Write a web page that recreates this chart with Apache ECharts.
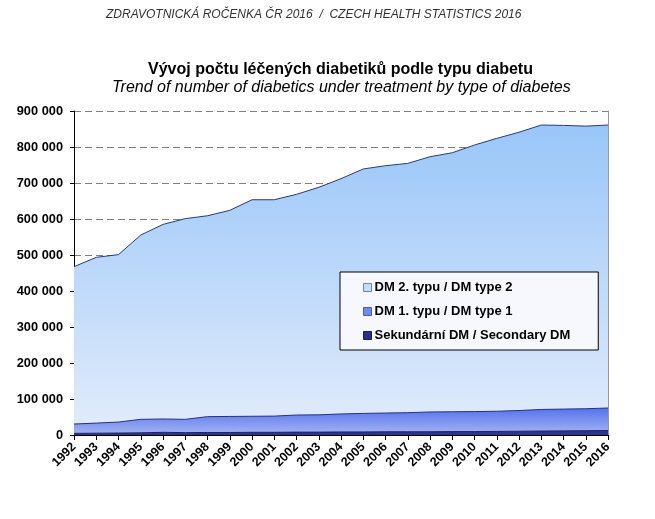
<!DOCTYPE html>
<html>
<head>
<meta charset="utf-8">
<script src="https://cdn.jsdelivr.net/npm/echarts@6/dist/echarts.min.js"></script>
<style>
html,body{margin:0;padding:0;background:#fff;}
#chart{width:655px;height:519px;}
</style>
</head>
<body>
<div id="chart"></div>
<script>
const years = ['1992','1993','1994','1995','1996','1997','1998','1999','2000','2001','2002','2003','2004','2005','2006','2007','2008','2009','2010','2011','2012','2013','2014','2015','2016'];
const secondaryDM = [4500,5000,5500,6000,7500,6500,7000,7000,7500,7500,8000,8000,8500,8500,9000,9000,9000,9500,9500,10000,10500,11000,11500,12000,12500];
const type1DM = [26000,28000,30500,37500,37000,37000,44000,44500,44500,45000,47500,48000,50000,51500,52000,53000,55000,55000,55500,56000,57500,60000,60500,61000,62500];
const type2DM = [437000,460500,465000,512000,540500,557500,558000,572500,601500,601000,613000,632000,653500,679000,687000,692500,709000,719500,740500,758000,773000,790000,788000,785000,786000];
const yTicks = [0,100000,200000,300000,400000,500000,600000,700000,800000,900000];

const headerText = 'ZDRAVOTNICKÁ ROČENKA ČR 2016  /  CZECH HEALTH STATISTICS 2016';
const titleCz = 'Vývoj počtu léčených diabetiků podle typu diabetu';
const titleEn = 'Trend of number of diabetics under treatment by type of diabetes';
const nameT2 = 'DM 2. typu / DM type 2';
const nameT1 = 'DM 1. typu / DM type 1';
const nameSec = 'Sekundární DM / Secondary DM';

const FONT = '"Liberation Sans", Arial, sans-serif';
const chart = echarts.init(document.getElementById('chart'), null, {renderer:'canvas'});

function fmt(v){ return String(v).replace(/\B(?=(\d{3})+(?!\d))/g, ' '); }

chart.setOption({
  animation:false,
  backgroundColor:'#fff',
  title:[
    {text:headerText,left:106,top:9,padding:0,textStyle:{fontFamily:FONT,fontSize:12,fontStyle:'italic',fontWeight:'normal',color:'#333'}},
    {text:titleCz,left:148,top:62,padding:0,textStyle:{fontFamily:FONT,fontSize:16,fontWeight:'bold',color:'#000'}},
    {text:titleEn,left:112,top:80,padding:0,textStyle:{fontFamily:FONT,fontSize:16,fontStyle:'italic',fontWeight:'normal',color:'#000'}}
  ],
  grid:{left:74,right:47,top:111,bottom:84,containLabel:false},
  legend:{
    orient:'vertical',
    left:340, top:272,
    padding:[9,28,8,23],
    itemGap:11,
    itemWidth:8, itemHeight:8,
    icon:'rect',
    backgroundColor:'#f6f8fe',
    borderColor:'#000', borderWidth:1,
    textStyle:{fontFamily:FONT,fontSize:13,fontWeight:'bold',color:'#000',padding:[0,0,0,-2]},
    data:[
      {name:nameT2,itemStyle:{color:'#c9dcf6',borderColor:'#7186b8',borderWidth:1}},
      {name:nameT1,itemStyle:{color:'#6e8cec',borderColor:'#4a5db0',borderWidth:1}},
      {name:nameSec,itemStyle:{color:'#2b2d86',borderColor:'#1b1c5a',borderWidth:1}}
    ]
  },
  xAxis:{
    type:'category',
    data:years,
    boundaryGap:false,
    axisLine:{lineStyle:{color:'#000',width:1}},
    axisTick:{show:true,length:5,lineStyle:{color:'#000'}},
    axisLabel:{rotate:45,fontFamily:FONT,fontSize:12.5,fontWeight:'bold',color:'#000',margin:10,interval:0},
    splitLine:{show:false}
  },
  yAxis:[{
    type:'value',
    min:0,max:900000,interval:100000,
    axisLine:{show:true,lineStyle:{color:'#000'}},
    axisTick:{show:true,length:4,lineStyle:{color:'#000'}},
    axisLabel:{fontFamily:FONT,fontSize:12.8,fontWeight:'bold',color:'#000',margin:11,
      formatter:function(v){ return yTicks.indexOf(v)>=0 ? fmt(v) : ''; }},
    splitLine:{show:true,lineStyle:{color:'#808080',type:[7,4],width:1}}
  },{
    type:'value',position:'right',
    min:0,max:900000,interval:100000,
    axisLine:{show:true,lineStyle:{color:'#9a9a9a'}},
    axisTick:{show:false},axisLabel:{show:false},splitLine:{show:false}
  }],
  series:[
    {
      name:nameSec,type:'line',stack:'dm',data:secondaryDM,
      symbol:'none',smooth:false,
      lineStyle:{color:'#1f2166',width:1},
      itemStyle:{color:'#2b2d86'},
      areaStyle:{color:'#30338c',opacity:1},
      z:4
    },
    {
      name:nameT1,type:'line',stack:'dm',data:type1DM,
      symbol:'none',
      lineStyle:{color:'#28307a',width:1},
      itemStyle:{color:'#6e8cec'},
      areaStyle:{opacity:1,color:new echarts.graphic.LinearGradient(0,0,0,1,[
        {offset:0,color:'#5473ee'},{offset:1,color:'#a3b2f2'}])},
      z:3
    },
    {
      name:nameT2,type:'line',stack:'dm',data:type2DM,
      symbol:'none',
      lineStyle:{color:'#2b3a7c',width:1},
      itemStyle:{color:'#c9dcf6'},
      areaStyle:{opacity:1,color:new echarts.graphic.LinearGradient(0,0,0,1,[
        {offset:0,color:'#99c6f8'},{offset:1,color:'#e0ebfb'}])},
      z:2
    }
  ]
});
</script>
</body>
</html>
